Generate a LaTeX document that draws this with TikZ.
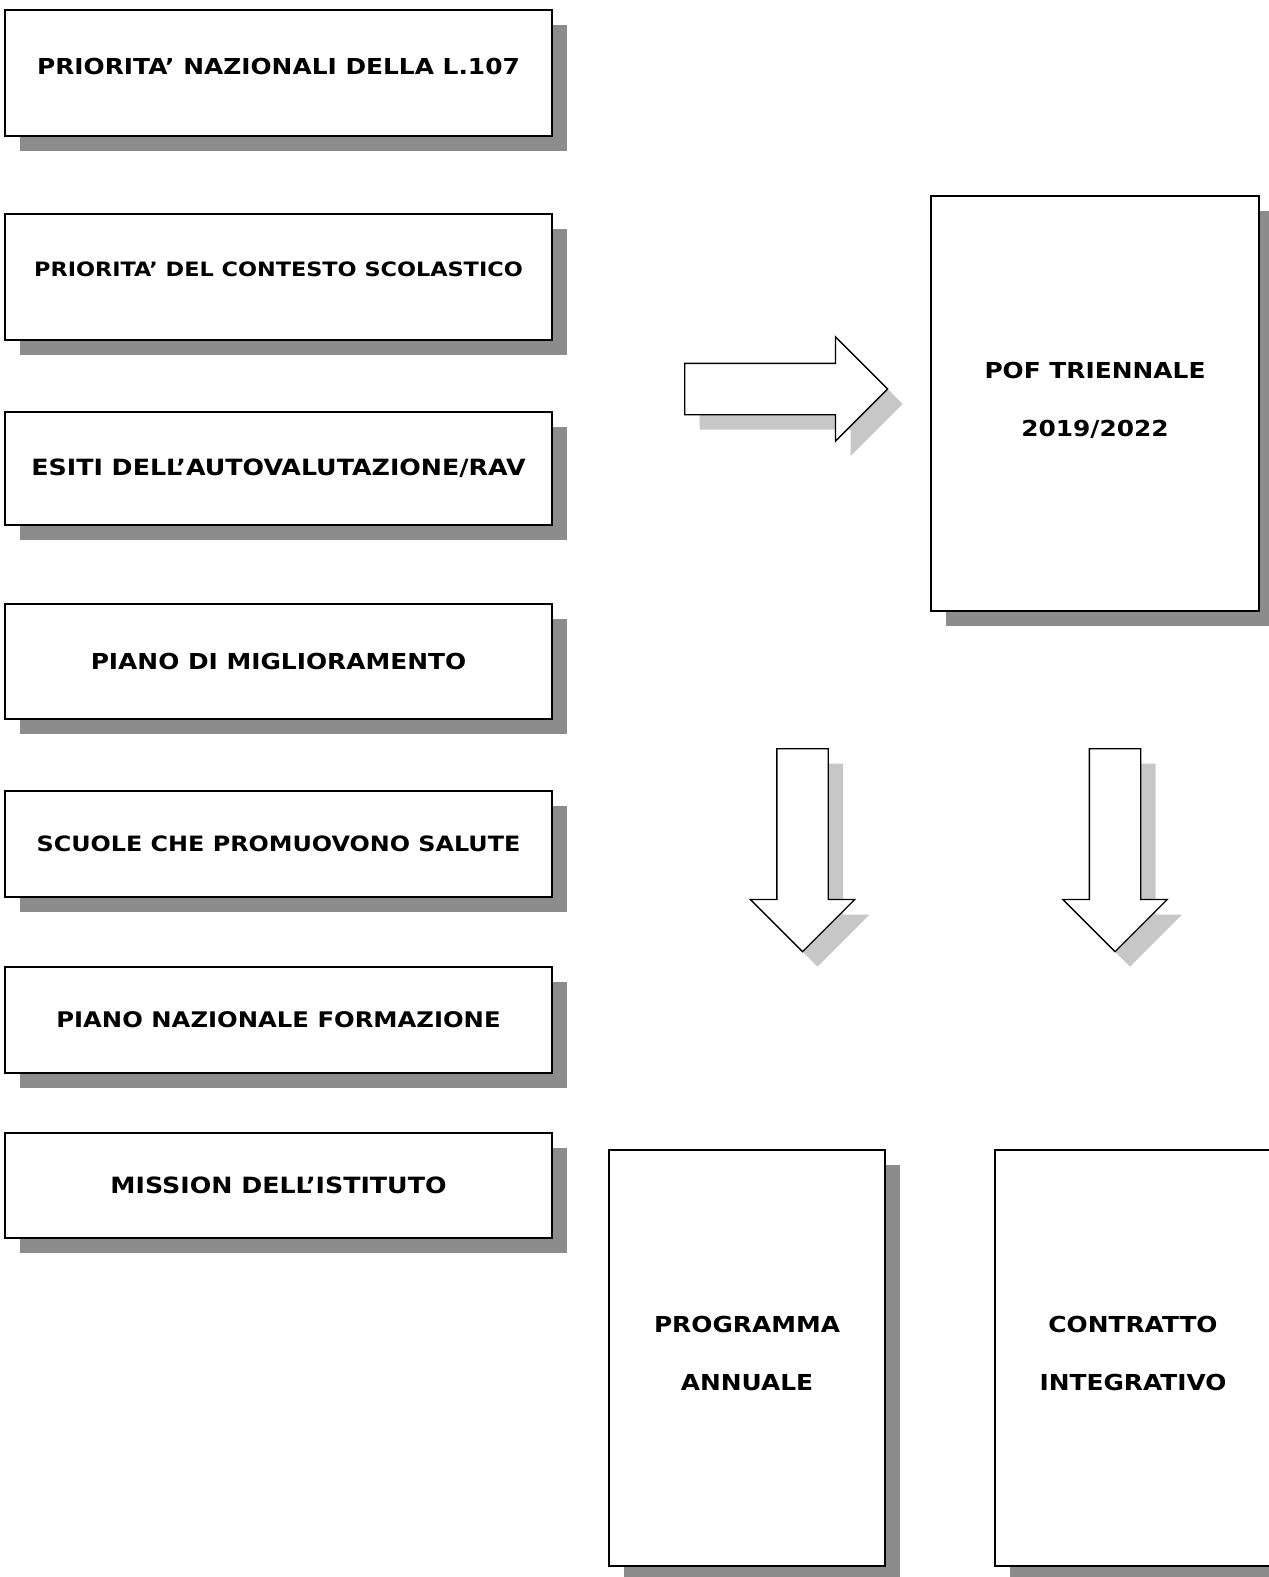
\documentclass[tikz,border=0pt]{standalone}
\usepackage{fontspec}
\setmainfont[FakeStretch=1.13]{DejaVu Sans}
\usetikzlibrary{shapes.arrows,shadows,positioning}
\tikzset{
  fs/.style={font=\bfseries\fontsize{#1}{58}\selectfont},
  bx/.style={rectangle,draw=black,fill=white,line width=1.3pt,inner sep=0pt,fs=22,align=center,
    drop shadow={shadow xshift=15pt,shadow yshift=-15pt,fill=black!45,opacity=1}},
  bar/.style={bx,minimum width=547pt},
  sar/.style={single arrow,draw=black,fill=white,line width=1.3pt,inner xsep=0pt,inner ysep=25pt,
    single arrow head extend=26.5pt,minimum height=203pt,
    drop shadow={shadow xshift=15pt,shadow yshift=-15pt,fill=black!22,opacity=1}},
  sard/.style={sar,shape border rotate=270,inner xsep=25pt,inner ysep=0pt},
}
\begin{document}
\begin{tikzpicture}[x=1pt,y=-1pt]
\useasboundingbox (0,0) rectangle (1269,1577);
% ---- left column: the inputs
\node[bar,minimum height=126pt,text depth=14pt] (naz) at (278.5,73) {PRIORITA’ NAZIONALI DELLA L.107};
\node[bar,minimum height=126pt,text depth=16pt,fs=19.8] (ctx) at (278.5,277) {PRIORITA’ DEL CONTESTO SCOLASTICO};
\node[bar,minimum height=113pt,fs=22.4] (rav) at (278.5,468.5) {ESITI DELL’AUTOVALUTAZIONE/RAV};
\node[bar,minimum height=115pt] (pdm) at (278.5,661.5) {PIANO DI MIGLIORAMENTO};
\node[bar,minimum height=106pt,fs=21.1] (sal) at (278.5,844) {SCUOLE CHE PROMUOVONO SALUTE};
\node[bar,minimum height=106pt,fs=21.5] (frm) at (278.5,1020) {PIANO NAZIONALE FORMAZIONE};
\node[bar,minimum height=105pt,fs=22.4] (mis) at (278.5,1185.5) {MISSION DELL’ISTITUTO};
% ---- the plan
\node[bx,minimum width=328pt,minimum height=415pt,text depth=9pt] (pof) at (1095,403.5) {POF TRIENNALE\\2019/2022};
\node[sar,anchor=tail] (ain) at (684,389) {};
% ---- what follows from it
\node[sard,anchor=tail] (apa) at (802.5,748) {};
\node[sard,anchor=tail] (aci) at (1115,748) {};
\node[bx,minimum width=276pt,minimum height=416pt,text depth=10pt] (pa) at (747,1358) {PROGRAMMA\\ANNUALE};
\node[bx,minimum width=276pt,minimum height=416pt,text depth=10pt] (ci) at (1133,1358) {CONTRATTO\\INTEGRATIVO};
\end{tikzpicture}
\end{document}
